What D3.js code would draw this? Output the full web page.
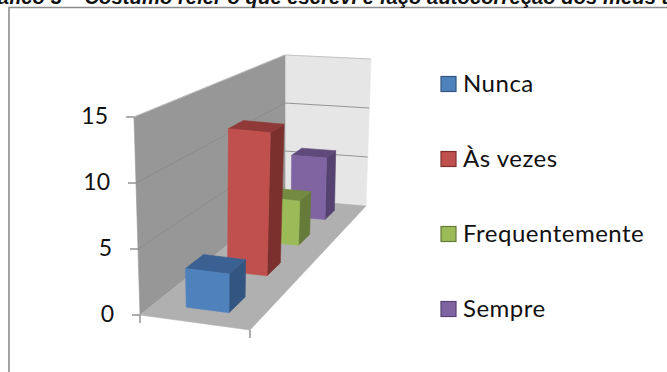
<!DOCTYPE html>
<html>
<head>
<meta charset="utf-8">
<script src="https://cdn.jsdelivr.net/npm/d3@7"></script>
<style>
  html, body { margin: 0; padding: 0; background: #fff; overflow: hidden; }
  text { font-family: Lato, "Noto Sans", sans-serif; fill: #111; }
</style>
</head>
<body>
<div id="chart"></div>
<script>
// Chart data
const titleText = "Gráfico 3 – Costumo reler o que escrevi e faço autocorreção dos meus textos";
const categories = ["Respostas"];
const seriesNames = ["Nunca", "Às vezes", "Frequentemente", "Sempre"];
const seriesValues = [3, 12, 4, 6];
const yTicks = [0, 5, 10, 15];

const frontColors = ["#4f81bd", "#c0504d", "#9bbb59", "#8064a2"];
const topColors = ["#3a6191", "#8f3a38", "#738a40", "#5f4a7b"];
const sideColors = ["#335680", "#7c302e", "#667b3a", "#554270"];

const width = 667;
const height = 372;

const svg = d3.select("#chart")
    .append("svg")
    .attr("width", width)
    .attr("height", height);

// Scales for the three chart directions
const xScale = d3.scaleBand().domain(categories).range([0, 1]).paddingInner(0).paddingOuter(0.75);
const zScale = d3.scaleBand().domain(seriesNames).range([0, 1]).paddingInner(0.6).paddingOuter(0.3);
const yScale = d3.scaleLinear().domain([0, 15]).range([0, 1]);

// Perspective map of the unit square onto a quad (corners: near-left, near-right, far-right, far-left)
function quadMap(p) {
    const [p0, p1, p2, p3] = p;
    const dx1 = p1[0] - p2[0], dx2 = p3[0] - p2[0], sx = p0[0] - p1[0] + p2[0] - p3[0];
    const dy1 = p1[1] - p2[1], dy2 = p3[1] - p2[1], sy = p0[1] - p1[1] + p2[1] - p3[1];
    const den = dx1 * dy2 - dx2 * dy1;
    const g = (sx * dy2 - dx2 * sy) / den;
    const h = (dx1 * sy - sx * dy1) / den;
    const a = p1[0] - p0[0] + g * p1[0], b = p3[0] - p0[0] + h * p3[0];
    const d = p1[1] - p0[1] + g * p1[1], e = p3[1] - p0[1] + h * p3[1];
    return (u, v) => {
        const w = g * u + h * v + 1;
        return [(a * u + b * v + p0[0]) / w, (d * u + e * v + p0[1]) / w];
    };
}

const floorMap = quadMap([[140, 315], [250, 330], [366, 206], [285, 199]]);
const ceilMap = quadMap([[134, 117], [254, 133], [371, 59], [285, 55]]);

// Project chart coordinates (x across, t up, z into the page) to the screen
function project(x, t, z) {
    const a = floorMap(x, z), b = ceilMap(x, z);
    return [a[0] + (b[0] - a[0]) * t, a[1] + (b[1] - a[1]) * t];
}

function face(points, fill, stroke) {
    svg.append("polygon")
        .attr("points", points.map(p => p.join(",")).join(" "))
        .attr("fill", fill)
        .attr("stroke", stroke || fill)
        .attr("stroke-width", 0.6)
        .attr("stroke-linejoin", "round");
}

// Outer frame
svg.append("path")
    .attr("d", `M9,${height} V7.5 H${width}`)
    .attr("fill", "none")
    .attr("stroke", "#8c8c8c")
    .attr("stroke-width", 1.6);

// Title, cut off by the top of the page
svg.append("text")
    .attr("x", -26)
    .attr("y", 4)
    .style("font-family", "'Liberation Sans', Arial, sans-serif")
    .style("font-weight", "bold")
    .style("font-style", "italic")
    .style("font-size", "20.3px")
    .text(titleText);

// Walls and floor
face([project(0, 0, 1), project(1, 0, 1), project(1, 1, 1), project(0, 1, 1)], "#e6e6e6");
face([project(0, 0, 0), project(0, 0, 1), project(0, 1, 1), project(0, 1, 0)], "#979797");
face([project(0, 0, 0), project(1, 0, 0), project(1, 0, 1), project(0, 0, 1)], "#b0b0b0");

// Gridlines along both walls
yTicks.filter(v => v > 0).forEach(v => {
    const t = yScale(v);
    const line = [project(0, t, 0), project(0, t, 1), project(1, t, 1)];
    svg.append("polyline")
        .attr("points", line.map(p => p.join(",")).join(" "))
        .attr("fill", "none")
        .attr("stroke", v === 15 ? "#bdbdbd" : "#8a8a8a")
        .attr("stroke-width", 0.9);
});

// Bars, far to near
d3.range(seriesNames.length - 1, -1, -1).forEach(i => {
    const x0 = xScale(categories[0]), x1 = x0 + xScale.bandwidth();
    const z0 = zScale(seriesNames[i]), z1 = z0 + zScale.bandwidth();
    const t = yScale(seriesValues[i]);
    face([project(x1, 0, z0), project(x1, 0, z1), project(x1, t, z1), project(x1, t, z0)], sideColors[i]);
    face([project(x0, t, z0), project(x1, t, z0), project(x1, t, z1), project(x0, t, z1)], topColors[i]);
    face([project(x0, 0, z0), project(x1, 0, z0), project(x1, t, z0), project(x0, t, z0)], frontColors[i]);
});

// Value axis: ticks follow the slanted front edge of the left wall
const yAxisScale = d3.scaleLinear()
    .domain([0, 15])
    .range([project(0, 0, 0)[1], project(0, 1, 0)[1]]);

const yAxis = svg.append("g")
    .attr("class", "y-axis")
    .call(d3.axisLeft(yAxisScale).tickValues(yTicks).tickSize(8).tickPadding(18));

yAxis.select(".domain").remove();
yAxis.selectAll(".tick line").attr("stroke", "#8c8c8c").attr("stroke-width", 1.4);
yAxis.selectAll(".tick text")
    .style("font-family", "Lato, sans-serif")
    .style("font-size", "23px")
    .attr("fill", "#111");
yAxis.selectAll(".tick")
    .attr("transform", d => `translate(${project(0, yScale(d), 0)[0]},${yAxisScale(d)})`);

// Category ticks below the floor
[0, 1].forEach(x => {
    const p = project(x, 0, 0);
    svg.append("line")
        .attr("x1", p[0]).attr("y1", p[1])
        .attr("x2", p[0]).attr("y2", p[1] + 8)
        .attr("stroke", "#8c8c8c")
        .attr("stroke-width", 1.4);
});

// Legend
const legendScale = d3.scalePoint().domain(seriesNames).range([84, 309]);
const legend = svg.selectAll(".legend-item")
    .data(seriesNames)
    .enter().append("g")
    .attr("class", "legend-item")
    .attr("transform", d => `translate(441,${legendScale(d)})`);

legend.append("rect")
    .attr("x", 0)
    .attr("y", -7.5)
    .attr("width", 15)
    .attr("height", 15)
    .attr("fill", (d, i) => frontColors[i])
    .attr("stroke", (d, i) => sideColors[i])
    .attr("stroke-width", 1.2);

legend.append("text")
    .attr("x", 22)
    .attr("y", 8)
    .style("font-size", "24px")
    .style("letter-spacing", "0.5px")
    .text(d => d);
</script>
</body>
</html>
